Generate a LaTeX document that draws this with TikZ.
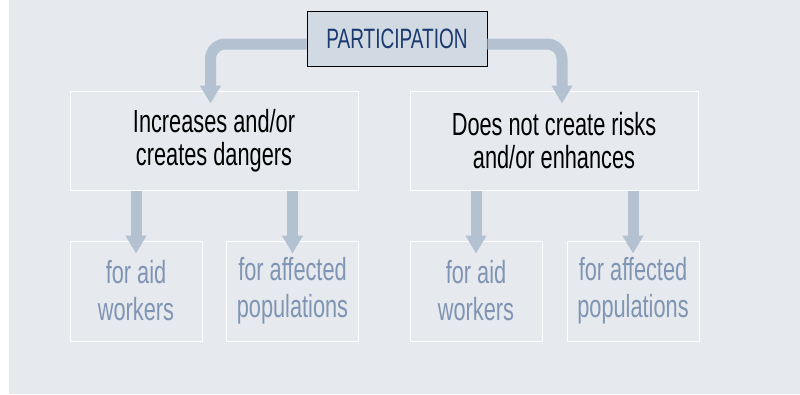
\documentclass[tikz,border=0pt]{standalone}
\usepackage{fontspec}
\setmainfont{Liberation Sans}[FakeStretch=0.68]
\usetikzlibrary{arrows.meta}
\definecolor{panelbg}{HTML}{E6E9EE}
\definecolor{flowcol}{HTML}{B3C1D1}
\definecolor{headfill}{HTML}{D1D9E3}
\definecolor{navy}{HTML}{1B3A6E}
\definecolor{softblue}{HTML}{8095B4}

\begin{document}
\begin{tikzpicture}[x=1pt, y=-1pt,
    head/.style={draw=black, line width=0.8pt, fill=headfill, text=navy,
      minimum width=180pt, minimum height=55pt, inner sep=0pt,
      font=\fontsize{28}{32}\selectfont},
    effect/.style={draw=white, line width=1pt, minimum width=288pt,
      minimum height=99pt, inner sep=0pt, align=center,
      font=\fontsize{32}{33}\selectfont},
    target/.style={draw=white, line width=1pt, minimum width=132pt,
      minimum height=100pt, inner sep=0pt, align=center, text=softblue,
      font=\fontsize{32}{37}\selectfont},
    flow/.style={draw=flowcol, line width=11pt,
      -{Triangle[width=20pt, length=18pt]}, shorten >=-13pt}]
      \useasboundingbox (0,0) rectangle (800,394);
      \fill[panelbg] (9,0) rectangle (800,394);

      \node[head] (part) at (397,38.5) {PARTICIPATION};

      \node[effect] (inc) at (214,140.5) {Increases and/or\\creates dangers};
      \node[effect] (nocreate) at (554,140.5) {Does not create risks\\and/or enhances};

      \node[target] (aidL) at (136,291) {for aid\\workers};
      \node[target] (popL) at (292.5,291) {for affected\\populations};
      \node[target] (aidR) at (476,291) {for aid\\workers};
      \node[target] (popR) at (633,291) {for affected\\populations};

      % from the top box
      \draw[flow, rounded corners=15pt] ([yshift=-5.5pt]part.west) -| ([xshift=-3.5pt]inc.north);
      \draw[flow, rounded corners=15pt] ([yshift=-5.5pt]part.east) -| ([xshift=8pt]nocreate.north);

      % down to the groups
      \draw[flow] (inc.south -| aidL.north) -- (aidL.north);
      \draw[flow] (inc.south -| popL.north) -- (popL.north);
      \draw[flow] (nocreate.south -| aidR.north) -- (aidR.north);
      \draw[flow] (nocreate.south -| popR.north) -- (popR.north);
    \end{tikzpicture}
\end{document}
